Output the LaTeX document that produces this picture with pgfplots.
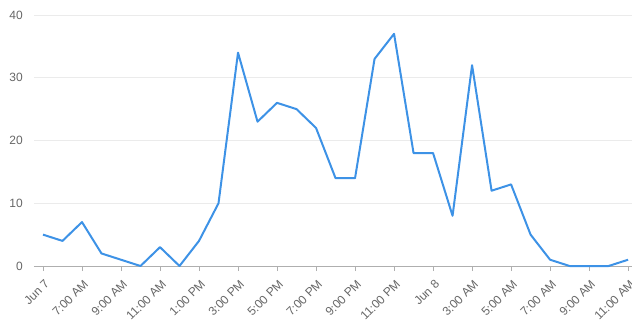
\documentclass[border=0pt]{standalone}
\usepackage{pgfplots}
\pgfplotsset{compat=1.18}
\usepackage{fontspec}
\setmainfont{Liberation Sans}
\definecolor{lineblue}{RGB}{61,146,230}
\definecolor{lbl}{RGB}{102,102,102}
\definecolor{gridc}{RGB}{235,235,235}
\definecolor{axc}{RGB}{175,175,175}
\begin{document}
\begin{tikzpicture}
\useasboundingbox (-34pt,-58pt) rectangle (598pt,266pt);
\begin{axis}[
  scale only axis,
  width=598pt, height=251pt,
  xmin=-0.46, xmax=30.2,
  ymin=0, ymax=40,
  ytick={0,10,20,30,40},
  xtick={0,2,...,30},
  xticklabels={Jun 7,7:00 AM,9:00 AM,11:00 AM,1:00 PM,3:00 PM,5:00 PM,7:00 PM,9:00 PM,11:00 PM,Jun 8,3:00 AM,5:00 AM,7:00 AM,9:00 AM,11:00 AM},
  axis x line*=bottom, axis y line*=left,
  y axis line style={draw=none},
  x axis line style={draw=axc, line width=0.9pt},
  ymajorgrids, grid style={draw=gridc, line width=0.9pt},
  ytick style={draw=none},
  xtick style={draw=axc, line width=0.9pt},
  tick align=outside,
  major tick length=5pt,
  /pgf/number format/assume math mode=true,
  ticklabel style={font=\fontsize{12}{14}\selectfont, text=lbl},
  yticklabel style={anchor=east, inner sep=0pt, xshift=-6pt},
  xticklabel style={xshift=1pt, yshift=-8pt, rotate=45, anchor=north east, inner sep=0pt},
  clip=false,
]
\addplot[lineblue, line width=2pt, line join=round] coordinates {
(0,5)(1,4)(2,7)(3,2)(4,1)(5,0)(6,3)(7,0)(8,4)(9,10)
(10,34)(11,23)(12,26)(13,25)(14,22)(15,14)(16,14)(17,33)(18,37)(19,18)
(20,18)(21,8)(22,32)(23,12)(24,13)(25,5)(26,1)(27,0)(28,0)(29,0)(30,1)
};
\end{axis}
\end{tikzpicture}
\end{document}
